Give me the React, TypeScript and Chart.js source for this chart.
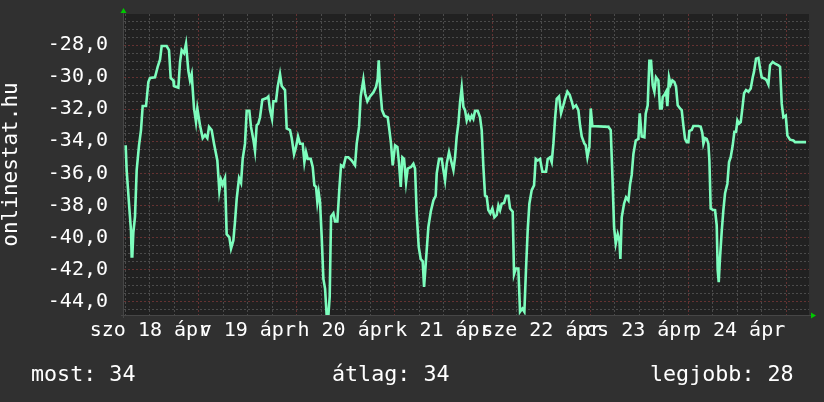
import React, { useEffect, useRef } from "react";
import { Chart, registerables } from "chart.js";

Chart.register(...registerables);

// hours since 18 Apr 00:00
const hours = [
  6.05, 6.29, 6.87, 7.36, 7.52, 7.68, 7.93, 8.34, 8.75, 9.32, 9.81, 10.22, 11.04, 11.61, 12.02, 13.24, 13.9, 14.47, 14.88, 16.1,
  16.68, 17.09, 17.74, 17.9, 18.97, 19.38, 19.79, 20.36, 20.85, 21.42, 21.83, 22.24, 22.81, 23.3, 23.63, 24.28, 24.94, 25.51, 26.08, 26.49,
  27.14, 27.72, 28.53, 29.02, 29.43, 29.84, 30.41, 30.82, 31.48, 31.89, 32.46, 32.87, 33.28, 33.85, 34.34, 34.75, 35.32, 35.73, 36.38, 36.79,
  37.37, 37.77, 38.18, 38.59, 39.0, 39.57, 40.64, 41.04, 41.45, 41.94, 42.27, 42.92, 43.33, 43.9, 44.32, 45.13, 45.54, 46.36, 46.77, 47.34,
  47.83, 48.32, 48.81, 49.47, 49.88, 50.28, 50.69, 51.43, 51.92, 52.33, 52.74, 53.06, 53.39, 53.72, 54.13, 54.54, 54.95, 55.35, 55.76, 56.09,
  56.42, 56.99, 57.4, 57.97, 58.46, 58.87, 59.44, 60.02, 60.67, 61.49, 62.3, 62.71, 63.29, 63.69, 64.35, 64.76, 65.33, 65.98, 66.8, 67.46,
  67.86, 68.11, 68.44, 68.93, 69.5, 70.32, 70.73, 71.13, 71.54, 72.12, 72.69, 73.1, 73.51, 73.91, 74.32, 74.81, 75.22, 76.04, 76.61, 77.02,
  77.43, 77.92, 78.41, 78.9, 79.23, 79.56, 79.88, 80.29, 80.87, 81.52, 82.09, 82.34, 82.91, 83.56, 83.97, 84.38, 84.79, 85.36, 85.85, 86.43,
  86.83, 87.24, 87.65, 88.06, 88.47, 88.88, 89.28, 89.69, 90.1, 90.51, 90.92, 91.32, 91.73, 92.39, 92.96, 93.37, 93.78, 94.19, 94.6, 95.0,
  95.49, 95.99, 96.48, 97.05, 97.46, 97.87, 98.27, 98.85, 99.34, 99.91, 100.32, 100.97, 101.3, 101.71, 102.36, 102.77, 103.34, 103.83, 104.24, 104.65,
  105.06, 105.63, 106.21, 106.62, 107.1, 107.68, 108.25, 109.15, 109.56, 110.13, 110.54, 110.95, 111.36, 111.77, 112.34, 112.83, 113.4, 113.81, 114.38, 114.95,
  115.44, 115.85, 116.51, 117.08, 117.49, 117.9, 118.55, 118.88, 119.29, 119.78, 120.11, 120.51, 124.44, 125.01, 125.42, 125.83, 126.24, 126.73, 127.14, 127.38,
  127.71, 128.28, 128.77, 129.35, 129.75, 130.16, 130.57, 131.15, 131.8, 132.13, 132.61, 133.26, 133.59, 134.08, 134.49, 134.9, 135.31, 135.72, 136.12, 136.7,
  137.11, 137.51, 137.76, 138.17, 138.58, 138.9, 139.31, 139.72, 140.13, 140.62, 141.03, 141.44, 142.01, 142.42, 142.83, 143.24, 143.65, 144.06, 144.3, 144.87,
  145.28, 146.51, 147.08, 147.49, 147.74, 148.14, 148.55, 148.96, 149.21, 149.53, 150.02, 150.6, 151.01, 151.25, 151.5, 151.82, 152.23, 152.64, 153.05, 153.62,
  154.03, 154.44, 154.93, 155.34, 155.75, 156.08, 156.48, 156.89, 157.3, 157.71, 158.2, 158.77, 159.35, 159.84, 160.16, 160.65, 161.23, 161.64, 162.04, 162.86,
  163.27, 163.68, 164.09, 164.74, 165.32, 166.13, 166.54, 166.95, 167.36, 167.94, 168.34, 169.0, 169.81, 170.22, 171.45, 172.92,
];

const values = [
  -34.25, -35.8, -37.9, -39.6, -41.2, -41.2, -39.7, -38.7, -35.8, -34.25, -33.3, -31.8, -31.8, -30.3, -30.05, -30.0, -29.35, -28.9, -28.05, -28.05,
  -28.3, -30.05, -30.2, -30.55, -30.65, -29.05, -28.3, -28.5, -27.9, -29.6, -30.2, -29.8, -31.95, -32.8, -31.95, -33.0, -33.8, -33.6, -33.8, -33.1,
  -33.3, -34.15, -35.2, -37.1, -36.4, -36.7, -36.3, -39.8, -40.0, -40.7, -40.2, -39.0, -37.6, -36.3, -36.6, -35.1, -34.15, -32.1, -32.1, -33.1,
  -33.9, -34.6, -33.0, -32.9, -32.5, -31.4, -31.3, -31.2, -32.05, -32.6, -31.5, -31.5, -30.6, -29.8, -30.55, -30.8, -33.2, -33.3, -33.8, -34.8,
  -34.35, -33.7, -34.15, -34.15, -35.3, -34.67, -35.1, -35.1, -35.6, -36.75, -36.85, -37.8, -37.2, -37.8, -40.0, -42.6, -43.2, -44.9, -44.9, -43.7,
  -38.7, -38.5, -39.0, -39.0, -36.95, -35.5, -35.6, -35.0, -35.0, -35.2, -35.5, -34.15, -33.1, -31.2, -30.15, -31.0, -31.5, -31.2, -30.95, -30.6,
  -30.1, -28.95, -30.6, -32.05, -32.4, -32.5, -33.3, -34.15, -35.5, -34.25, -34.35, -35.4, -36.85, -35.0, -35.1, -36.55, -35.7, -35.6, -35.4, -35.7,
  -38.5, -40.6, -41.35, -41.5, -43.1, -41.95, -40.8, -39.35, -38.4, -37.7, -37.4, -36.0, -35.1, -35.1, -35.8, -36.45, -35.4, -34.67, -35.2, -35.8,
  -35.0, -33.7, -32.9, -31.55, -30.65, -31.85, -32.05, -32.7, -32.4, -32.65, -32.4, -32.6, -32.1, -32.1, -32.5, -33.3, -35.6, -37.4, -37.45, -38.3,
  -38.5, -38.2, -38.75, -38.6, -38.0, -38.3, -37.9, -37.85, -37.4, -37.4, -38.2, -38.4, -42.3, -41.95, -41.95, -44.65, -44.45, -44.65, -41.95, -39.55,
  -37.9, -37.05, -36.75, -35.1, -35.2, -35.1, -35.9, -35.9, -35.1, -35.0, -35.3, -34.15, -32.6, -31.35, -31.2, -32.25, -31.75, -31.35, -30.9, -31.1,
  -31.5, -31.9, -31.75, -32.05, -33.0, -33.7, -34.15, -34.25, -35.0, -34.35, -31.95, -33.05, -33.1, -33.3, -36.1, -39.35, -40.4, -39.8, -40.2, -41.35,
  -38.75, -37.9, -37.5, -37.7, -36.7, -36.1, -34.8, -33.95, -33.85, -32.25, -33.7, -33.75, -32.27, -31.75, -28.98, -28.98, -30.5, -30.9, -30.0, -30.2,
  -31.95, -31.95, -31.23, -31.1, -30.9, -31.8, -30.0, -30.45, -30.2, -30.3, -30.6, -31.75, -31.95, -32.05, -33.0, -33.85, -34.05, -34.05, -33.35, -33.3,
  -33.05, -33.05, -33.1, -33.5, -34.15, -33.8, -33.85, -34.15, -35.2, -38.2, -38.27, -38.3, -39.25, -42.05, -42.8, -41.25, -39.65, -38.3, -37.25, -36.65,
  -35.3, -35.0, -34.25, -33.4, -33.4, -32.7, -32.9, -32.8, -31.95, -31.0, -30.8, -30.9, -30.7, -30.0, -29.65, -28.85, -28.8, -29.45, -30.0, -30.1,
  -30.2, -30.45, -29.25, -29.05, -29.15, -29.25, -29.35, -31.65, -32.5, -32.4, -33.65, -33.9, -33.95, -34.05, -34.05, -34.05,
];

const dayNoonHours = [12, 36, 60, 84, 108, 132, 156];
const dayLabels = ["szo 18 ápr", "v 19 ápr", "h 20 ápr", "k 21 ápr", "sze 22 ápr", "cs 23 ápr", "p 24 ápr"];
const xMin = 5.64;
const xMax = 173.64;
const yMin = -44.85;
const yMax = -26.05;
const axisTitle = "onlinestat.hu";
const legendLabels = ["most", "átlag", "legjobb"];
const legendValues = [34, 34, 28];

const MONO = "'DejaVu Sans Mono', monospace";
const MINOR = "#4b4b4b";
const MAJOR = "#643232";

const framePlugin = {
  id: "frame",
  beforeDraw(chart: any) {
    const { ctx, chartArea } = chart;
    const { left, top, right, bottom } = chartArea;
    ctx.save();
    ctx.fillStyle = "#303030";
    ctx.fillRect(0, 0, chart.width, chart.height);
    ctx.fillStyle = "#212121";
    ctx.fillRect(left, top, right - left, bottom - top);
    ctx.restore();
  },
  afterDraw(chart: any) {
    const { ctx, chartArea } = chart;
    const { left, top, right, bottom } = chartArea;
    ctx.save();
    ctx.strokeStyle = "#464646";
    ctx.lineWidth = 1;
    ctx.beginPath();
    ctx.moveTo(left - 0.5, top - 2);
    ctx.lineTo(left - 0.5, bottom + 3);
    ctx.moveTo(left - 3, bottom + 0.5);
    ctx.lineTo(right + 2, bottom + 0.5);
    ctx.stroke();
    ctx.fillStyle = "#00c800";
    ctx.beginPath();
    ctx.moveTo(left - 3.5, top - 1);
    ctx.lineTo(left + 2.5, top - 1);
    ctx.lineTo(left - 0.5, top - 6);
    ctx.closePath();
    ctx.fill();
    ctx.beginPath();
    ctx.moveTo(right + 2, bottom - 2.5);
    ctx.lineTo(right + 2, bottom + 3.5);
    ctx.lineTo(right + 7, bottom + 0.5);
    ctx.closePath();
    ctx.fill();
    ctx.restore();
  },
};

function ChartCanvas() {
  const ref = useRef<HTMLCanvasElement | null>(null);
  useEffect(() => {
    document.body.style.margin = "0";
    document.body.style.background = "#303030";
    const canvas = ref.current;
    if (!canvas) return;
    const points = hours.map((h, i) => ({ x: h, y: values[i] }));
    const xTicks: number[] = [];
    for (let h = 6; h <= 168; h += 6) xTicks.push(h);
    const yTicks: number[] = [];
    for (let k = -89; k <= -53; k++) yTicks.push(k / 2);

    const chart = new Chart(canvas, {
      type: "line",
      data: {
        datasets: [
          {
            data: points,
            borderColor: "#7dfdbd",
            borderWidth: 2.6,
            pointRadius: 0,
            tension: 0,
            fill: false,
          },
        ],
      },
      options: {
        animation: false,
        responsive: false,
        devicePixelRatio: 1,
        layout: { padding: { top: 14, right: 15, left: 0, bottom: 0 } },
        plugins: { legend: { display: false }, tooltip: { enabled: false } },
        scales: {
          x: {
            type: "linear",
            min: xMin,
            max: xMax,
            afterBuildTicks: (s: any) => {
              s.ticks = xTicks.map((v) => ({ value: v }));
            },
            afterFit: (s: any) => {
              s.height = 87;
              s.paddingLeft = 0;
              s.paddingRight = 0;
            },
            grid: {
              drawTicks: false,
              lineWidth: 1,
              color: (c: any) => (c.tick && c.tick.value % 24 === 0 ? MAJOR : MINOR),
            },
            border: { display: false, dash: [2, 2] },
            ticks: {
              autoSkip: false,
              maxRotation: 0,
              minRotation: 0,
              padding: 4,
              color: "#ffffff",
              font: { family: MONO, size: 20 },
              callback: (v: any) => {
                const i = dayNoonHours.indexOf(Number(v));
                return i >= 0 ? dayLabels[i] : "";
              },
            },
          },
          y: {
            type: "linear",
            min: yMin,
            max: yMax,
            afterBuildTicks: (s: any) => {
              s.ticks = yTicks.map((v) => ({ value: v }));
            },
            afterFit: (s: any) => {
              s.width = 124;
              s.paddingTop = 0;
              s.paddingBottom = 0;
            },
            grid: {
              drawTicks: false,
              lineWidth: 1,
              color: (c: any) =>
                c.tick && Math.abs(c.tick.value % 2) < 1e-9 ? MAJOR : MINOR,
            },
            border: { display: false, dash: [2, 2] },
            title: {
              display: true,
              text: axisTitle,
              color: "#ffffff",
              font: { family: MONO, size: 21, lineHeight: 1 },
              padding: { top: 1, bottom: 0 },
            },
            ticks: {
              autoSkip: false,
              padding: 16,
              color: "#ffffff",
              font: { family: MONO, size: 20 },
              callback: (v: any) => {
                const n = Number(v);
                return Math.abs(n % 2) < 1e-9 ? n.toFixed(1).replace(".", ",") : "";
              },
            },
          },
        },
      },
      plugins: [framePlugin],
    });
    return () => chart.destroy();
  }, []);
  return <canvas ref={ref} width={824} height={402} style={{ display: "block" }} />;
}

export default function App() {
  const lefts = [31, 332, 650];
  return (
    <div style={{ position: "relative", width: 824, height: 402, background: "#303030", overflow: "hidden" }}>
      <ChartCanvas />
      {legendLabels.map((l, i) => (
        <div
          key={l}
          style={{
            position: "absolute",
            left: lefts[i],
            top: 362.5,
            fontFamily: MONO,
            fontSize: 21.7,
            lineHeight: "21.7px",
            color: "#ffffff",
            whiteSpace: "pre",
          }}
        >
          {`${l}: ${legendValues[i]}`}
        </div>
      ))}
    </div>
  );
}
